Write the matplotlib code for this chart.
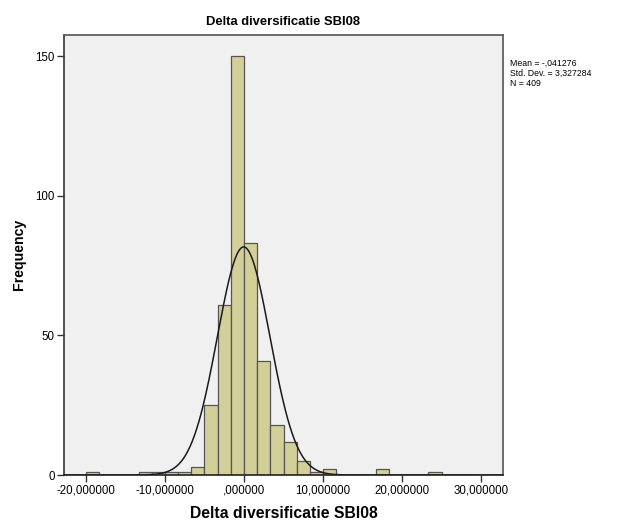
import matplotlib
matplotlib.use('Agg')
import matplotlib.pyplot as plt
import numpy as np
from matplotlib.ticker import FuncFormatter

# histogram (bin width 5/3, first edge -20)
bin_start = -20.0
bin_width = 5.0 / 3.0
counts = [1, 0, 0, 0, 1, 1, 1, 1, 3, 25, 61, 150, 83, 41, 18, 12, 5, 1, 2,
          0, 0, 0, 2, 0, 0, 0, 1]
mean_val = -0.041276
std_val = 3.327284
n_val = 409
x_ticks = [-20, -10, 0, 10, 20, 30]
y_ticks = [0, 50, 100, 150]
title = 'Delta diversificatie SBI08'

plt.rcParams['font.family'] = ['Liberation Sans', 'DejaVu Sans']

edges = bin_start + bin_width * np.arange(len(counts) + 1)

fig = plt.figure(figsize=(6.3, 5.25), dpi=100)
ax = fig.add_axes([64/630, 50/525, 439/630, 440.3/525])
ax.set_facecolor('#F0F0F0')

ax.bar(edges[:-1], counts, width=bin_width, align='edge',
       color='#D3CF98', edgecolor='#555555', linewidth=0.9)

# normal curve scaled to counts
xs = np.linspace(-22.8, 32.8, 600)
ys = n_val * bin_width / (std_val * np.sqrt(2 * np.pi)) * np.exp(-0.5 * ((xs - mean_val) / std_val) ** 2)
ax.plot(xs, ys, color='#1a1a1a', linewidth=1.1)

ax.set_xlim(-22.78, 32.78)
ax.set_ylim(0, 157.8)
ax.set_xticks(x_ticks)
ax.set_yticks(y_ticks)

def spss_fmt(v, pos):
    s = '%.6f' % v
    s = s.replace('.', ',')
    if s.startswith('0,'):
        s = s[1:]
    return s

ax.xaxis.set_major_formatter(FuncFormatter(spss_fmt))
ax.tick_params(axis='both', direction='out', length=5, width=1, color='#333333',
               labelsize=8.3, labelcolor='black', pad=1.5)

for sp in ax.spines.values():
    sp.set_color('#555555')
    sp.set_linewidth(1.2)
ax.spines['left'].set_color('#333333')
ax.spines['bottom'].set_color('#222222')

ax.set_title(title, fontsize=9.4, fontweight='bold', pad=7)
ax.set_xlabel(title, fontsize=11.3, fontweight='bold', labelpad=7)
ax.set_ylabel('Frequency', fontsize=10.2, fontweight='bold', labelpad=7)

stats = 'Mean = -,041276\nStd. Dev. = 3,327284\nN = 409'
fig.text(510/630, 1 - 59/525, stats, fontsize=6.3, va='top', ha='left',
         linespacing=1.15)

fig.savefig('out.png', dpi=100)
